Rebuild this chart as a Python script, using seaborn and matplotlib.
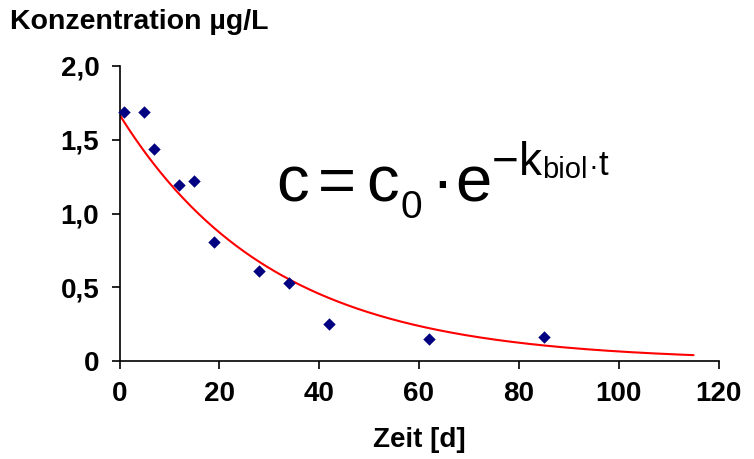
import numpy as np
import pandas as pd
import matplotlib
matplotlib.use("Agg")
import matplotlib.pyplot as plt
import seaborn as sns

# ---- data ----
zeit_d = [1, 5, 7, 12, 15, 19, 28, 34, 42, 62, 85]
konz_ugL = [1.69, 1.69, 1.44, 1.19, 1.22, 0.805, 0.61, 0.53, 0.25, 0.15, 0.16]

# fitted first-order decay shown as red line
c0_fit = 1.67
k_biol_fit = 0.0325
t_fit_end = 115

x_ticks = [0, 20, 40, 60, 80, 100, 120]
y_ticks = [0, 0.5, 1.0, 1.5, 2.0]
y_tick_labels = ["0", "0,5", "1,0", "1,5", "2,0"]

sns.set_theme(style="ticks")
plt.rcParams["font.family"] = ["Liberation Sans", "DejaVu Sans"]

W, H = 754, 459
fig = plt.figure(figsize=(W / 100, H / 100), dpi=100)
ax = fig.add_axes([119.5 / W, 1 - 361 / H, (718.5 - 119.5) / W, (361 - 66) / H])

df_pts = pd.DataFrame({"t": zeit_d, "c": konz_ugL})
t_line = np.linspace(0, t_fit_end, 300)
df_fit = pd.DataFrame({"t": t_line, "c": c0_fit * np.exp(-k_biol_fit * t_line)})

sns.lineplot(data=df_fit, x="t", y="c", ax=ax, color="#FF0000", linewidth=1.5)
sns.scatterplot(data=df_pts, x="t", y="c", ax=ax, marker="D", s=40,
                color="#000080", linewidth=0, zorder=3, clip_on=False)

ax.set_xlim(0, 120)
ax.set_ylim(0, 2.0)
ax.set_xticks(x_ticks)
ax.set_xticklabels([str(v) for v in x_ticks])
ax.set_yticks(y_ticks)
ax.set_yticklabels(y_tick_labels)

for lab in ax.get_xticklabels() + ax.get_yticklabels():
    lab.set_fontweight("bold")
    lab.set_fontsize(20)
    lab.set_color("black")

ax.tick_params(axis="both", direction="out", length=5.5, width=1.2,
               color="black", pad=9)
for side in ["top", "right"]:
    ax.spines[side].set_visible(False)
for side in ["left", "bottom"]:
    ax.spines[side].set_linewidth(1.2)
    ax.spines[side].set_color("black")

ax.set_xlabel("Zeit [d]", fontsize=20, fontweight="bold", color="black", labelpad=14)
ax.set_ylabel("")

fig.text(10 / W, 1 - 29 / H, "Konzentration µg/L", fontsize=20.5,
         fontweight="bold", ha="left", va="baseline", color="black")

# equation c = c0 · e^(−k_biol · t), composed piece by piece (pixel layout)
eq_pieces = [
    # text, x_px (left), baseline_px, size_pt
    ("c", 276, 202, 47),
    ("=", 318, 202, 47),
    ("c", 366, 202, 47),
    ("0", 400, 218, 28),
    ("·", 431, 202, 47),
    ("e", 455, 202, 47),
    ("−", 487, 175, 33),
    ("k", 510, 175, 33),
    ("biol", 528, 178, 21),
    ("·", 571, 175, 21),
    ("t", 581, 175, 25),
]
renderer = fig.canvas.get_renderer()
prev_right = -1e9
for txt, px, py, fs in eq_pieces:
    t = fig.text(px / W, 1 - py / H, txt, fontsize=fs, ha="left",
                 va="baseline", color="black")
    bb = t.get_window_extent(renderer)
    if bb.x0 < prev_right + 0.5:
        shift = prev_right + 0.5 - bb.x0
        t.set_x((px + shift) / W)
        bb = t.get_window_extent(renderer)
    prev_right = bb.x1

fig.savefig("out.png", dpi=100)
